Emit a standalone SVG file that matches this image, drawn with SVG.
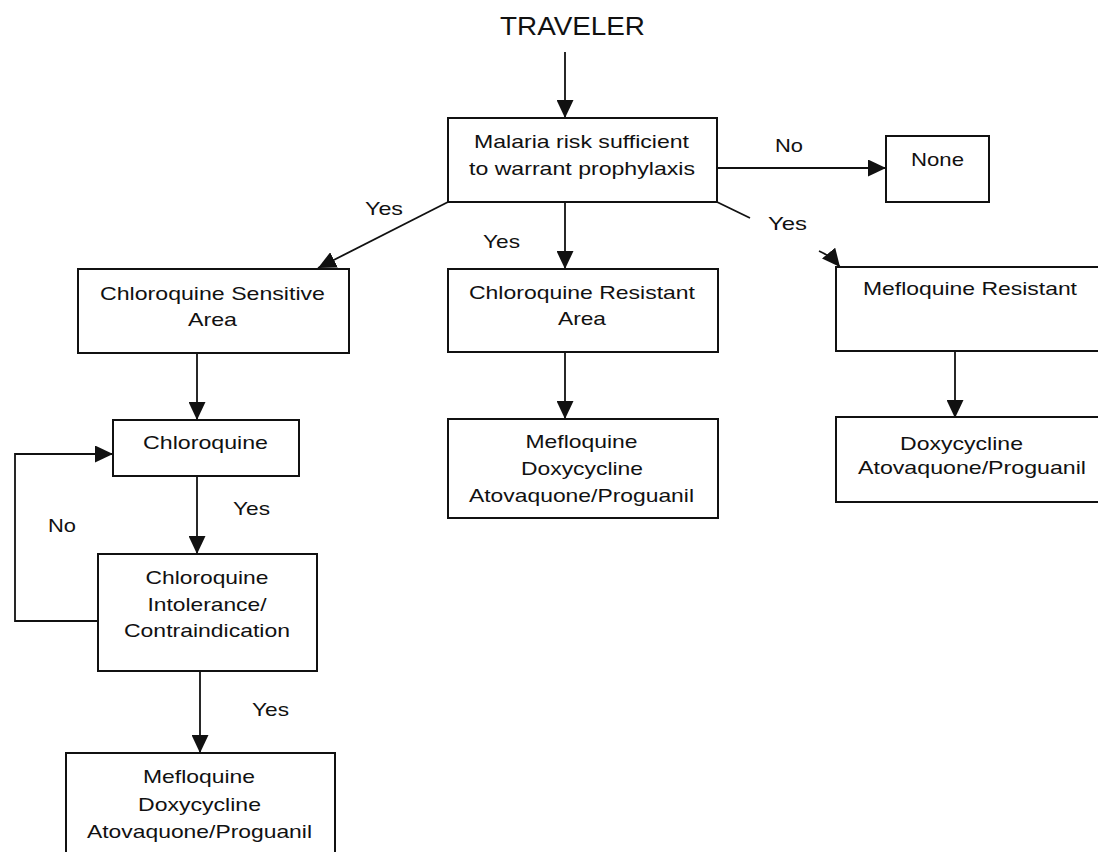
<svg xmlns="http://www.w3.org/2000/svg" width="1098" height="852" viewBox="0 0 1098 852">
<style>
.bx{fill:#fff;stroke:#111;stroke-width:2}
.ln{fill:none;stroke:#111;stroke-width:1.8}
.t{font-family:"Liberation Sans",Arial,sans-serif;font-size:19px;fill:#111;text-anchor:middle}
.big{font-size:26px}
</style>
<defs>
<marker id="ah" markerUnits="userSpaceOnUse" markerWidth="18" markerHeight="17" refX="18" refY="8.5" orient="auto">
<path d="M0,0 L18,8.5 L0,17 z" fill="#111"/>
</marker>
</defs>
<rect width="1098" height="852" fill="#fff"/>
<g id="connectors">
<line class="ln" x1="565" y1="52" x2="565" y2="118" marker-end="url(#ah)"/>
<line class="ln" x1="717" y1="168" x2="886" y2="168" marker-end="url(#ah)"/>
<line class="ln" x1="448" y1="202" x2="318" y2="268" marker-end="url(#ah)"/>
<line class="ln" x1="565" y1="202" x2="565" y2="269" marker-end="url(#ah)"/>
<line class="ln" x1="717" y1="202" x2="750" y2="218"/>
<path class="ln" d="M819,251 Q831,256 840,267" marker-end="url(#ah)"/>
<line class="ln" x1="197" y1="353" x2="197" y2="420" marker-end="url(#ah)"/>
<line class="ln" x1="197" y1="470" x2="197" y2="554" marker-end="url(#ah)"/>
<path class="ln" d="M98,621 L15,621 L15,454 L113,454" marker-end="url(#ah)"/>
<line class="ln" x1="200" y1="671" x2="200" y2="753" marker-end="url(#ah)"/>
<line class="ln" x1="565" y1="352" x2="565" y2="419" marker-end="url(#ah)"/>
<line class="ln" x1="955" y1="351" x2="955" y2="418" marker-end="url(#ah)"/>
</g>
<g id="labels">
<text class="t" x="789" y="152" textLength="28" lengthAdjust="spacingAndGlyphs">No</text>
<text class="t" x="384" y="215" textLength="38" lengthAdjust="spacingAndGlyphs">Yes</text>
<text class="t" x="501.5" y="248" textLength="37" lengthAdjust="spacingAndGlyphs">Yes</text>
<text class="t" x="787.5" y="230" textLength="39" lengthAdjust="spacingAndGlyphs">Yes</text>
<text class="t" x="251.5" y="515" textLength="37" lengthAdjust="spacingAndGlyphs">Yes</text>
<text class="t" x="62" y="532" textLength="28" lengthAdjust="spacingAndGlyphs">No</text>
<text class="t" x="270.5" y="716" textLength="37" lengthAdjust="spacingAndGlyphs">Yes</text>
</g>
<g id="traveler">
<text class="t big" x="572.5" y="35" textLength="145" lengthAdjust="spacingAndGlyphs">TRAVELER</text>
</g>
<g id="malaria-risk">
<rect class="bx" x="448" y="118" width="269" height="84"/>
<text class="t" x="581.5" y="148" textLength="215" lengthAdjust="spacingAndGlyphs">Malaria risk sufficient</text>
<text class="t" x="582" y="175" textLength="226" lengthAdjust="spacingAndGlyphs">to warrant prophylaxis</text>
</g>
<g id="none">
<rect class="bx" x="886" y="136" width="103" height="66"/>
<text class="t" x="937.5" y="166" textLength="53" lengthAdjust="spacingAndGlyphs">None</text>
</g>
<g id="cq-sensitive">
<rect class="bx" x="78" y="269" width="271" height="84"/>
<text class="t" x="212.5" y="300" textLength="225" lengthAdjust="spacingAndGlyphs">Chloroquine Sensitive</text>
<text class="t" x="212.5" y="326" textLength="49" lengthAdjust="spacingAndGlyphs">Area</text>
</g>
<g id="cq-resistant">
<rect class="bx" x="448" y="269" width="270" height="83"/>
<text class="t" x="582" y="299" textLength="226" lengthAdjust="spacingAndGlyphs">Chloroquine Resistant</text>
<text class="t" x="582" y="325" textLength="48" lengthAdjust="spacingAndGlyphs">Area</text>
</g>
<g id="mq-resistant">
<rect class="bx" x="836" y="267" width="280" height="84"/>
<text class="t" x="970" y="295" textLength="214" lengthAdjust="spacingAndGlyphs">Mefloquine Resistant</text>
</g>
<g id="chloroquine">
<rect class="bx" x="113" y="420" width="186" height="56"/>
<text class="t" x="205.5" y="449" textLength="125" lengthAdjust="spacingAndGlyphs">Chloroquine</text>
</g>
<g id="cq-regimen-mid">
<rect class="bx" x="448" y="419" width="270" height="99"/>
<text class="t" x="581.5" y="448" textLength="112" lengthAdjust="spacingAndGlyphs">Mefloquine</text>
<text class="t" x="582" y="475" textLength="122" lengthAdjust="spacingAndGlyphs">Doxycycline</text>
<text class="t" x="581.5" y="502" textLength="225" lengthAdjust="spacingAndGlyphs">Atovaquone/Proguanil</text>
</g>
<g id="mq-regimen-right">
<rect class="bx" x="836" y="417" width="280" height="85"/>
<text class="t" x="961.5" y="450" textLength="123" lengthAdjust="spacingAndGlyphs">Doxycycline</text>
<text class="t" x="972" y="474" textLength="228" lengthAdjust="spacingAndGlyphs">Atovaquone/Proguanil</text>
</g>
<g id="cq-intolerance">
<rect class="bx" x="98" y="554" width="219" height="117"/>
<text class="t" x="207" y="584" textLength="123" lengthAdjust="spacingAndGlyphs">Chloroquine</text>
<text class="t" x="207" y="611" textLength="119" lengthAdjust="spacingAndGlyphs">Intolerance/</text>
<text class="t" x="207" y="637" textLength="166" lengthAdjust="spacingAndGlyphs">Contraindication</text>
</g>
<g id="cq-regimen-left">
<rect class="bx" x="66" y="753" width="269" height="120"/>
<text class="t" x="199" y="783" textLength="112" lengthAdjust="spacingAndGlyphs">Mefloquine</text>
<text class="t" x="199.5" y="811" textLength="123" lengthAdjust="spacingAndGlyphs">Doxycycline</text>
<text class="t" x="199.5" y="838" textLength="225" lengthAdjust="spacingAndGlyphs">Atovaquone/Proguanil</text>
</g>
</svg>
